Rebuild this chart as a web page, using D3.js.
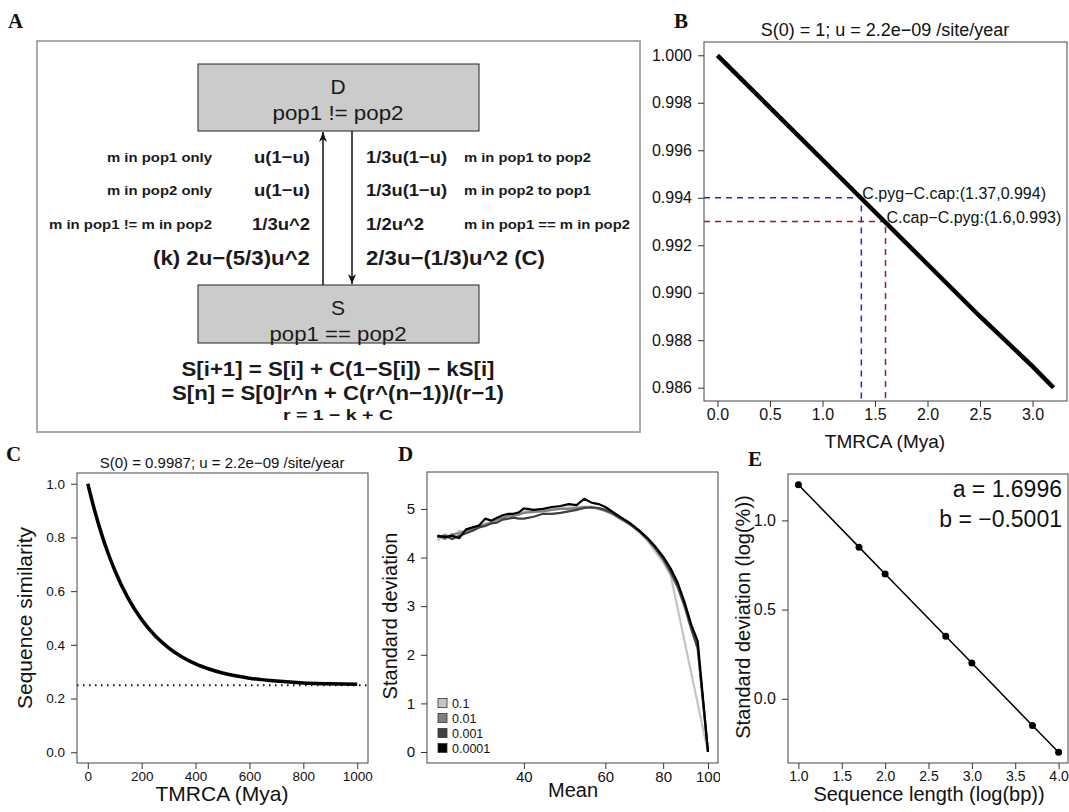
<!DOCTYPE html>
<html>
<head>
<meta charset="utf-8">
<script src="https://cdn.jsdelivr.net/npm/d3@7"></script>
<style>
  body { margin: 0; background: #fff; }
  text { font-family: "Liberation Sans", Arial, sans-serif; }
</style>
</head>
<body>
<script>
const width = 1069, height = 812;

// ---- data ----
// panel A: transition rates
const leftNotes = ["m in pop1 only", "m in pop2 only", "m in pop1 != m in pop2"];
const leftRates = ["u(1\u2212u)", "u(1\u2212u)", "1/3u^2"];
const rightRates = ["1/3u(1\u2212u)", "1/3u(1\u2212u)", "1/2u^2"];
const rightNotes = ["m in pop1 to pop2", "m in pop2 to pop1", "m in pop1 == m in pop2"];
const sumRates = ["(k) 2u\u2212(5/3)u^2", "2/3u\u2212(1/3)u^2 (C)"];
const equations = ["S[i+1] = S[i] + C(1\u2212S[i]) \u2212 kS[i]", "S[n] = S[0]r^n + C(r^(n\u22121))/(r\u22121)", "r = 1 \u2212 k + C"];

// panel B: similarity vs TMRCA, S(0) = 1
const bTime = [0, 0.5, 1.0, 1.5, 2.0, 2.5, 3.0, 3.2];
const bSim = [1.0, 0.9978, 0.9956, 0.9934, 0.9912, 0.9890, 0.9869, 0.9860];
const bPairs = ["C.pyg\u2212C.cap", "C.cap\u2212C.pyg"];
const bPairTime = [1.37, 1.6];
const bPairSim = [0.994, 0.993];
const bPairColor = ["#2222e0", "#9b1c1c"];
const bTicksY = [0.986, 0.988, 0.990, 0.992, 0.994, 0.996, 0.998, 1.000];
const bTicksX = [0, 0.5, 1, 1.5, 2, 2.5, 3];

// panel C: similarity vs TMRCA, S(0) = 0.9987
const cTime = [0, 25, 50, 75, 100, 150, 200, 250, 300, 350, 400, 450, 500, 600, 700, 800, 900, 1000];
const cSim = [1.0, 0.902, 0.816, 0.742, 0.678, 0.573, 0.494, 0.434, 0.389, 0.355, 0.329, 0.310, 0.295, 0.276, 0.265, 0.258, 0.255, 0.253];
const cFloor = 0.25;
const cTicksX = [0, 200, 400, 600, 800, 1000];
const cTicksY = [0, 0.2, 0.4, 0.6, 0.8, 1.0];

// panel D: standard deviation vs mean
const dMean = [26, 27, 28, 29, 30, 31, 32, 33, 34, 35, 36, 37, 38, 39, 40, 42, 44, 46, 48, 50, 52, 54, 56, 58, 60, 62, 65, 68, 71, 74, 77, 80, 83, 86, 89, 92, 95, 98, 100];
const dLabels = ["0.1", "0.01", "0.001", "0.0001"];
const dColors = ["#c4c4c4", "#808080", "#404040", "#000000"];
const dSd01 = [4.35, 4.48, 4.42, 4.55, 4.52, 4.60, 4.62, 4.70, 4.72, 4.76, 4.84, 4.85, 4.88, 4.90, 4.95, 4.96, 4.98, 5.00, 5.02, 5.03, 5.04, 5.05, 5.05, 5.02, 4.98, 4.92, 4.80, 4.66, 4.52, 4.34, 4.12, 3.90, 3.64, null, null, null, null, 0.39, 0.0];
const dSd001 = [4.45, 4.38, 4.48, 4.50, 4.55, 4.58, 4.65, 4.68, 4.72, 4.78, 4.82, 4.86, 4.86, 4.88, 4.92, 4.94, 4.95, 4.98, 5.00, 5.00, 5.02, 5.04, 5.04, 5.00, 4.96, 4.90, 4.78, 4.68, 4.55, 4.38, 4.18, 3.96, 3.68, 3.38, 2.98, 2.52, 2.12, null, 0.0];
const dSd0001 = [4.42, 4.45, 4.38, 4.45, 4.50, 4.55, 4.62, 4.65, 4.70, 4.72, 4.78, 4.80, 4.82, 4.80, 4.80, 4.84, 4.90, 4.90, 4.92, 4.95, 4.98, 5.02, 5.03, 5.02, 4.98, 4.92, 4.80, 4.68, 4.54, 4.38, 4.19, 3.98, 3.72, 3.42, 3.02, 2.55, 2.15, null, 0.0];
const dSd00001 = [4.45, 4.42, 4.45, 4.40, 4.58, 4.62, 4.66, 4.80, 4.76, 4.82, 4.87, 4.90, 4.90, 4.93, 5.01, 4.98, 5.00, 5.04, 5.06, 5.10, 5.08, 5.21, 5.13, 5.10, 5.04, 4.95, 4.82, 4.70, 4.56, 4.40, 4.22, 4.02, 3.78, 3.48, 3.08, 2.62, 2.28, null, 0.0];
const dTicksX = [40, 60, 80, 100];
const dTicksY = [0, 1, 2, 3, 4, 5];

// panel E: log sd vs log sequence length
const eLen = [1.0, 1.699, 2.0, 2.699, 3.0, 3.699, 4.0];
const eSd = [1.20, 0.85, 0.70, 0.35, 0.20, -0.15, -0.30];
const eFit = ["a = 1.6996", "b = \u22120.5001"];
const eTicksX = [1.0, 1.5, 2.0, 2.5, 3.0, 3.5, 4.0];
const eTicksY = [0.0, 0.5, 1.0];

const svg = d3.select("body").append("svg")
    .attr("width", width)
    .attr("height", height);

svg.append("rect").attr("width", width).attr("height", height).attr("fill", "#fff");

// arrow marker for panel A
svg.append("defs").append("marker")
    .attr("id", "arrow")
    .attr("viewBox", "0 0 10 10")
    .attr("refX", 10)
    .attr("refY", 5)
    .attr("markerWidth", 10)
    .attr("markerHeight", 10)
    .attr("markerUnits", "userSpaceOnUse")
    .attr("orient", "auto")
    .append("path")
    .attr("d", "M 0 1 L 10 5 L 0 9 L 3 5 Z")
    .attr("fill", "#111");

function panelLabel(txt, x, y) {
    svg.append("text")
        .attr("x", x).attr("y", y)
        .text(txt)
        .style("font-family", "'Liberation Serif', 'DejaVu Serif', serif")
        .attr("font-size", 21)
        .attr("font-weight", "bold")
        .attr("fill", "#111");
}

// R-like axis: ticks outside, no domain line, box drawn separately
function rAxis(g, scale, orient, ticks, fmt, size) {
    const ax = (orient === "left" ? d3.axisLeft(scale) : d3.axisBottom(scale))
        .tickValues(ticks)
        .tickFormat(fmt)
        .tickSize(6)
        .tickSizeOuter(0)
        .tickPadding(orient === "left" ? 6 : 2);
    g.call(ax);
    g.select(".domain").remove();
    g.attr("font-family", "Liberation Sans").attr("font-size", size);
    g.selectAll("line").attr("stroke", "#333");
    g.selectAll("text").attr("fill", "#111");
}

function plotBox(g, x0, y0, x1, y1) {
    g.append("rect")
        .attr("x", x0).attr("y", y0)
        .attr("width", x1 - x0).attr("height", y1 - y0)
        .attr("fill", "none")
        .attr("stroke", "#444")
        .attr("stroke-width", 1);
}

function axisTitle(g, txt, x, y, size, rotate) {
    g.append("text")
        .attr("transform", `translate(${x},${y})` + (rotate ? " rotate(-90)" : ""))
        .attr("text-anchor", "middle")
        .attr("font-size", size)
        .attr("fill", "#111")
        .text(txt);
}

// ---------------- Panel A ----------------
panelLabel("A", 8, 28);
const gA = svg.append("g");

// text stretched to the widths seen in the diagram
function aText(txt, x, y, anchor, size, bold, len) {
    const t = gA.append("text")
        .attr("x", x).attr("y", y)
        .attr("text-anchor", anchor)
        .attr("font-size", size)
        .attr("font-weight", bold ? "bold" : "normal")
        .attr("fill", "#1a1a1a")
        .text(txt);
    if (len) t.attr("textLength", len).attr("lengthAdjust", "spacingAndGlyphs");
    return t;
}

gA.append("rect")
    .attr("x", 37).attr("y", 41).attr("width", 603).attr("height", 391)
    .attr("fill", "none").attr("stroke", "#aaa").attr("stroke-width", 2);

const boxes = [
    { y: 64, h: 67, title: "D", sub: "pop1 != pop2", len: 131 },
    { y: 285, h: 58, title: "S", sub: "pop1 == pop2", len: 137 }
];
boxes.forEach(b => {
    gA.append("rect")
        .attr("x", 198).attr("y", b.y).attr("width", 281).attr("height", b.h)
        .attr("fill", "#cbcbcb").attr("stroke", "#222").attr("stroke-width", 1);
    aText(b.title, 338, b.y + 30, "middle", 21, false, null);
    aText(b.sub, 338, b.y + 56, "middle", 21, false, b.len);
});

gA.append("line").attr("x1", 323).attr("y1", 285).attr("x2", 323).attr("y2", 132)
    .attr("stroke", "#111").attr("stroke-width", 1.5).attr("marker-end", "url(#arrow)");
gA.append("line").attr("x1", 352).attr("y1", 131).attr("x2", 352).attr("y2", 284)
    .attr("stroke", "#111").attr("stroke-width", 1.5).attr("marker-end", "url(#arrow)");

const rowY = [162, 195, 229];
const leftNoteLen = [105, 105, 163], leftRateLen = [56, 56, 58];
const rightRateLen = [81, 81, 58], rightNoteLen = [127, 127, 166];
leftNotes.forEach((t, i) => {
    aText(t, 212, rowY[i], "end", 12.5, true, leftNoteLen[i]);
    aText(leftRates[i], 310, rowY[i] + 1, "end", 17, true, leftRateLen[i]);
    aText(rightRates[i], 366, rowY[i] + 1, "start", 17, true, rightRateLen[i]);
    aText(rightNotes[i], 464, rowY[i], "start", 12.5, true, rightNoteLen[i]);
});
aText(sumRates[0], 310, 265, "end", 20, true, 157);
aText(sumRates[1], 366, 265, "start", 20, true, 179);

const eqY = [376, 400, 420], eqSize = [20, 20, 15], eqLen = [313, 332, 110];
equations.forEach((t, i) => {
    aText(t, 338, eqY[i], "middle", eqSize[i], true, eqLen[i]);
});

// ---------------- Panel B ----------------
panelLabel("B", 674, 28);
const gB = svg.append("g");
const xB = d3.scaleLinear().domain([-0.128, 3.328]).range([704, 1067]);
const yB = d3.scaleLinear().domain([0.98544, 1.00056]).range([401, 42]);

gB.append("text").attr("x", 885).attr("y", 36).attr("text-anchor", "middle")
    .attr("font-size", 18).attr("fill", "#111")
    .text("S(0) = 1; u = 2.2e\u221209 /site/year");

bPairs.forEach((name, i) => {
    const px = xB(bPairTime[i]), py = yB(bPairSim[i]);
    gB.append("path")
        .attr("d", `M${xB.range()[0]},${py}H${px}V${yB.range()[0]}`)
        .attr("fill", "none")
        .attr("stroke", bPairColor[i])
        .attr("stroke-width", 1.5)
        .attr("stroke-dasharray", "6,5");
});

gB.append("path")
    .datum(bTime.map((t, i) => [t, bSim[i]]))
    .attr("d", d3.line().x(d => xB(d[0])).y(d => yB(d[1])))
    .attr("fill", "none").attr("stroke", "#000").attr("stroke-width", 4.5);

bPairs.forEach((name, i) => {
    gB.append("text")
        .attr("x", xB(bPairTime[i]) + 1).attr("y", yB(bPairSim[i]) + 1)
        .attr("font-size", 16).attr("fill", "#111")
        .text(`${name}:(${bPairTime[i]},${bPairSim[i]})`);
});

plotBox(gB, 704, 42, 1067, 401);
rAxis(gB.append("g").attr("transform", "translate(704,0)"), yB, "left", bTicksY, d3.format(".3f"), 16);
rAxis(gB.append("g").attr("transform", "translate(0,401)"), xB, "bottom", bTicksX, d3.format(".1f"), 16);
axisTitle(gB, "TMRCA (Mya)", 885, 448, 19, false);

// ---------------- Panel C ----------------
panelLabel("C", 6, 461);
const gC = svg.append("g");
const xC = d3.scaleLinear().domain([-40, 1040]).range([77, 368]);
const yC = d3.scaleLinear().domain([-0.04, 1.04]).range([763, 473]);

gC.append("text").attr("x", 222).attr("y", 468).attr("text-anchor", "middle")
    .attr("font-size", 15).attr("fill", "#111")
    .text("S(0) = 0.9987; u = 2.2e\u221209 /site/year");

gC.append("line")
    .attr("x1", xC.range()[0]).attr("x2", xC.range()[1])
    .attr("y1", yC(cFloor)).attr("y2", yC(cFloor))
    .attr("stroke", "#111").attr("stroke-width", 2).attr("stroke-dasharray", "1.5,4.5");

gC.append("path")
    .datum(cTime.map((t, i) => [t, cSim[i]]))
    .attr("d", d3.line().curve(d3.curveMonotoneX).x(d => xC(d[0])).y(d => yC(d[1])))
    .attr("fill", "none").attr("stroke", "#000").attr("stroke-width", 3.5);

plotBox(gC, 77, 473, 368, 763);
rAxis(gC.append("g").attr("transform", "translate(77,0)"), yC, "left", cTicksY, d3.format(".1f"), 13.5);
rAxis(gC.append("g").attr("transform", "translate(0,763)"), xC, "bottom", cTicksX, d3.format("d"), 13.5);
axisTitle(gC, "TMRCA (Mya)", 222, 801, 21, false);
axisTitle(gC, "Sequence similarity", 32, 618, 21, true);

// ---------------- Panel D ----------------
panelLabel("D", 398, 461);
svg.append("clipPath").attr("id", "clipD")
    .append("rect").attr("x", 370).attr("y", 440).attr("width", 350).attr("height", 372);
const gD = svg.append("g").attr("clip-path", "url(#clipD)");
const xD = d3.scaleLog().domain([24.7, 105.1]).range([427, 718]);
const yD = d3.scaleLinear().domain([-0.226, 5.76]).range([763, 472]);

const dSeries = [dSd01, dSd001, dSd0001, dSd00001];
const lineD = d3.line().x(d => xD(d[0])).y(d => yD(d[1]));
dSeries.forEach((vals, k) => {
    const pts = dMean.map((m, i) => [m, vals[i]]).filter(d => d[1] !== null);
    gD.append("path")
        .datum(pts)
        .attr("d", lineD)
        .attr("fill", "none")
        .attr("stroke", dColors[k])
        .attr("stroke-width", 2.2)
        .attr("stroke-linejoin", "round");
});

dLabels.forEach((lab, k) => {
    const cy = 703 + k * 15;
    gD.append("rect").attr("x", 438).attr("y", cy - 4.5).attr("width", 9).attr("height", 9)
        .attr("fill", dColors[k]).attr("stroke", "#333").attr("stroke-width", 0.8);
    gD.append("text").attr("x", 452).attr("y", cy + 4.5).attr("font-size", 12.5).attr("fill", "#111").text(lab);
});

plotBox(gD, 427, 472, 718, 763);
rAxis(gD.append("g").attr("transform", "translate(427,0)"), yD, "left", dTicksY, d3.format("d"), 15);
rAxis(gD.append("g").attr("transform", "translate(0,763)"), xD, "bottom", dTicksX, d3.format("d"), 15);
axisTitle(gD, "Mean", 573, 797, 20, false);
axisTitle(gD, "Standard deviation", 397, 616, 20, true);

// ---------------- Panel E ----------------
panelLabel("E", 748, 466);
const gE = svg.append("g");
const xE = d3.scaleLinear().domain([0.88, 4.12]).range([788, 1069]);
const yE = d3.scaleLinear().domain([-0.36, 1.26]).range([763, 474]);

gE.append("path")
    .datum(eLen.map((l, i) => [l, eSd[i]]))
    .attr("d", d3.line().x(d => xE(d[0])).y(d => yE(d[1])))
    .attr("fill", "none").attr("stroke", "#000").attr("stroke-width", 1.5);

gE.selectAll(".pt")
    .data(eLen.map((l, i) => [l, eSd[i]]))
    .enter()
    .append("circle")
    .attr("class", "pt")
    .attr("cx", d => xE(d[0]))
    .attr("cy", d => yE(d[1]))
    .attr("r", 3.5)
    .attr("fill", "#000");

eFit.forEach((t, i) => {
    gE.append("text").attr("x", 1062).attr("y", 497 + i * 30).attr("text-anchor", "end")
        .attr("font-size", 23).attr("fill", "#111").text(t);
});

plotBox(gE, 788, 474, 1068, 763);
rAxis(gE.append("g").attr("transform", "translate(788,0)"), yE, "left", eTicksY, d3.format(".1f"), 16);
rAxis(gE.append("g").attr("transform", "translate(0,763)"), xE, "bottom", eTicksX, d3.format(".1f"), 14);
axisTitle(gE, "Sequence length (log(bp))", 929, 801, 20, false);
axisTitle(gE, "Standard deviation (log(%))", 750, 617, 20, true);
</script>
</body>
</html>
